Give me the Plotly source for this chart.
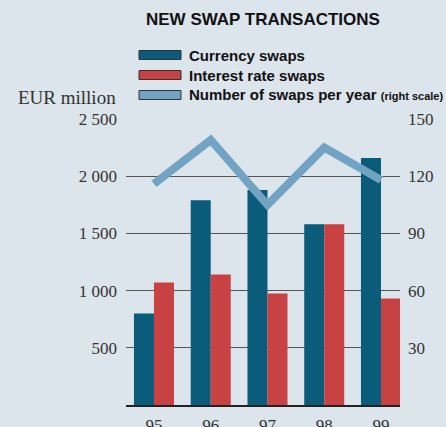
import plotly.graph_objects as go

years = ["95", "96", "97", "98", "99"]
currency_swaps = [800, 1790, 1880, 1580, 2160]
interest_rate_swaps = [1070, 1140, 975, 1580, 930]
swaps_per_year = [116, 139, 105, 135, 118]
left_ticks = [500, 1000, 1500, 2000, 2500]
left_tick_text = ["500", "1 000", "1 500", "2 000", "2 500"]
right_ticks = [30, 60, 90, 120, 150]
right_tick_text = ["30", "60", "90", "120", "150"]

BG = "#dce4ec"
C_CUR = "#0b5b7b"
C_IRS = "#c84244"
C_LINE = "#73a3c2"
SERIF = "Liberation Serif, Times New Roman, serif"
SANS = "Liberation Sans, Arial, sans-serif"

W, H = 446, 427
L, R, T, B = 126, 46, 119, 22
PW, PH = W - L - R, H - T - B

def px(x):
    return (x - L) / PW

def py(y):
    return (H - B - y) / PH

xs = list(range(len(years)))

fig = go.Figure()
fig.add_trace(go.Bar(x=xs, y=currency_swaps, marker=dict(color=C_CUR, line=dict(width=0)),
                     name="Currency swaps", showlegend=False))
fig.add_trace(go.Bar(x=xs, y=interest_rate_swaps, marker=dict(color=C_IRS, line=dict(width=0)),
                     name="Interest rate swaps", showlegend=False))
fig.add_trace(go.Scatter(x=xs, y=swaps_per_year, yaxis="y2", mode="lines",
                         line=dict(color=C_LINE, width=8), showlegend=False,
                         name="Number of swaps per year"))

fig.update_layout(
    width=W, height=H,
    margin=dict(l=L, r=R, t=T, b=B, pad=0, autoexpand=False),
    paper_bgcolor=BG, plot_bgcolor=BG,
    barmode="group", bargap=0.295, bargroupgap=0,
    xaxis=dict(range=[-0.493, 4.335], tickvals=xs, ticktext=years, automargin=False,
               showgrid=False, zeroline=False, showline=True, linecolor="#222", linewidth=1.5,
               ticks="", tickfont=dict(family=SERIF, size=17, color="#333"),
               ticklabelstandoff=4),
    yaxis=dict(range=[0, 2500], tickvals=left_ticks, ticktext=left_tick_text, automargin=False,
               showgrid=True, gridcolor="#555", gridwidth=1.2, zeroline=False,
               showline=False, ticks="", ticklabelstandoff=8,
               tickfont=dict(family=SERIF, size=17, color="#333")),
    yaxis2=dict(range=[0, 150], tickvals=right_ticks, ticktext=right_tick_text, automargin=False,
                overlaying="y", side="right", showgrid=False, zeroline=False,
                showline=False, ticks="", ticklabelstandoff=7,
                tickfont=dict(family=SERIF, size=17, color="#333")),
)

anns = []
anns.append(dict(text="<b>NEW SWAP TRANSACTIONS</b>", x=px(263), y=py(20), xanchor="center",
                 yanchor="middle", font=dict(family=SANS, size=17, color="#111")))
anns.append(dict(text="EUR million", x=px(118), y=py(97), xanchor="right", yanchor="middle",
                 font=dict(family=SERIF, size=19, color="#333")))
legend_items = [
    ("<b>Currency swaps</b>", C_CUR, 55),
    ("<b>Interest rate swaps</b>", C_IRS, 75),
    ("<b>Number of swaps per year</b> <b><span style='font-size:11px'>(right scale)</span></b>", C_LINE, 95),
]
shapes = []
for text, col, yc in legend_items:
    anns.append(dict(text=text, x=px(187), y=py(yc), xanchor="left", yanchor="middle",
                     font=dict(family=SANS, size=15, color="#111")))
    shapes.append(dict(type="rect", xref="paper", yref="paper",
                       x0=px(139), x1=px(181), y0=py(yc - 4.5), y1=py(yc + 4.5),
                       fillcolor=col, line=dict(color="#333", width=1)))
for a in anns:
    a.update(xref="paper", yref="paper", showarrow=False)
fig.update_layout(annotations=anns, shapes=shapes)

fig.write_html("out.html", config={"responsive": False, "displayModeBar": False},
               post_script="document.body.style.margin='0';document.body.style.overflow='hidden';document.body.style.background='%s';" % BG)
